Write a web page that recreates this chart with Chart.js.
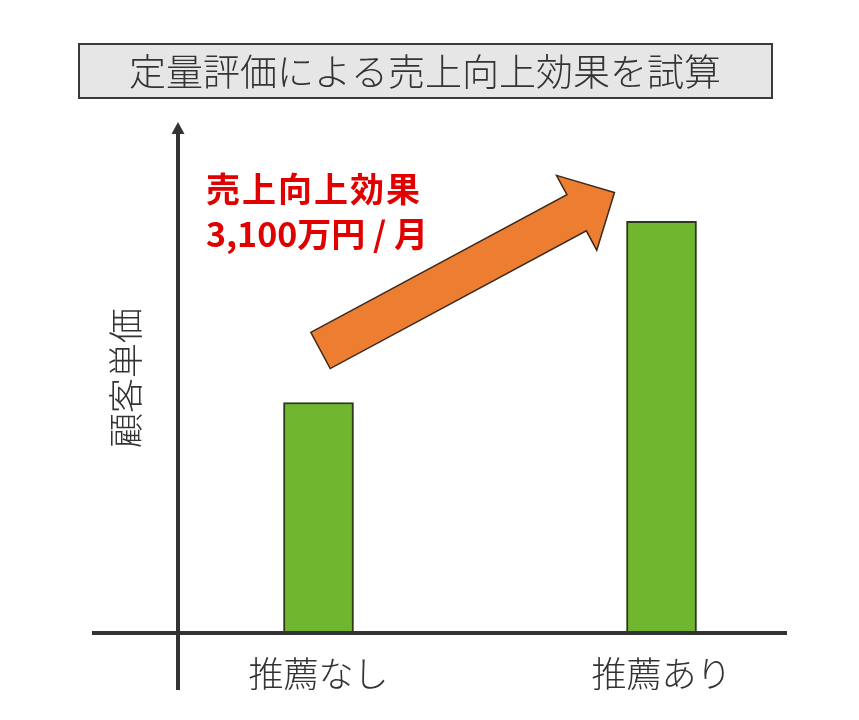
<!DOCTYPE html>
<html lang="ja">
<head>
<meta charset="utf-8">
<title>定量評価による売上向上効果を試算</title>
<script src="https://cdn.jsdelivr.net/npm/chart.js@4/dist/chart.umd.min.js"></script>
<style>
  html, body { margin: 0; padding: 0; background: #fff; }
  #wrap { width: 859px; height: 720px; }
</style>
</head>
<body>
<div id="wrap"><canvas id="chart" width="859" height="720"></canvas></div>
<script>
// データ
const categories = ['推薦なし', '推薦あり'];
const unitPrice = [45.2, 80.7];   // 顧客単価 (相対値、目盛りなし)
const yMax = 100;

const titleText = '定量評価による売上向上効果を試算';
const yTitle = '顧客単価';
const effectLines = ['売上向上効果', '3,100万円 / 月'];

const FONT = '"Noto Sans CJK JP", "Noto Sans", sans-serif';
const AXIS_COLOR = '#333333';

// タイトル枠・軸矢印・注記を描くプラグイン
const decorPlugin = {
    id: 'decor',
    beforeDraw(chart) {
        const ctx = chart.ctx;
        ctx.save();
        // タイトル枠
        ctx.fillStyle = '#e6e6e6';
        ctx.strokeStyle = '#3a3a3a';
        ctx.lineWidth = 2;
        ctx.fillRect(79, 44, 693, 54);
        ctx.strokeRect(79, 44, 693, 54);
        ctx.fillStyle = '#333333';
        ctx.font = '300 37px ' + FONT;
        ctx.textAlign = 'center';
        ctx.textBaseline = 'middle';
        ctx.fillText(titleText, 425, 72);
        ctx.restore();
    },
    afterDatasetsDraw(chart) {
        const ctx = chart.ctx;
        const area = chart.chartArea;
        const y0 = chart.scales.y.getPixelForValue(0);
        const axisX = area.left + 31;

        ctx.save();
        ctx.strokeStyle = AXIS_COLOR;
        ctx.fillStyle = AXIS_COLOR;
        ctx.lineWidth = 4;
        // 横軸
        ctx.beginPath();
        ctx.moveTo(92, y0);
        ctx.lineTo(787, y0);
        ctx.stroke();
        // 縦軸 + 矢印
        ctx.beginPath();
        ctx.moveTo(axisX, 690);
        ctx.lineTo(axisX, area.top + 8);
        ctx.stroke();
        ctx.beginPath();
        ctx.moveTo(axisX, area.top - 1);
        ctx.lineTo(axisX - 6.5, area.top + 11);
        ctx.lineTo(axisX + 6.5, area.top + 11);
        ctx.closePath();
        ctx.fill();

        // オレンジの矢印 (棒の上端から算出)
        const bars = chart.getDatasetMeta(0).data;
        const b1 = bars[0], b2 = bars[1];
        const tail = { x: b1.x + 2, y: b1.y - 52 };
        const tip = { x: b2.x - 47, y: b2.y - 29 };
        const dx = tip.x - tail.x, dy = tip.y - tail.y;
        const L = Math.hypot(dx, dy);
        const ang = Math.atan2(dy, dx);
        const sw = 20.5, hw = 42.5, hl = 43;
        ctx.translate(tail.x, tail.y);
        ctx.rotate(ang);
        ctx.beginPath();
        ctx.moveTo(0, -sw);
        ctx.lineTo(L - hl, -sw);
        ctx.lineTo(L - hl, -hw);
        ctx.lineTo(L, 0);
        ctx.lineTo(L - hl, hw);
        ctx.lineTo(L - hl, sw);
        ctx.lineTo(0, sw);
        ctx.closePath();
        ctx.fillStyle = '#ed7d31';
        ctx.fill();
        ctx.strokeStyle = '#3b2a1c';
        ctx.lineWidth = 1.5;
        ctx.stroke();
        ctx.restore();

        // 赤い注記
        ctx.save();
        ctx.fillStyle = '#e00000';
        ctx.font = 'bold 34px ' + FONT;
        ctx.textAlign = 'left';
        ctx.textBaseline = 'middle';
        ctx.letterSpacing = '2px';
        ctx.fillText(effectLines[0], 206, 189);
        ctx.letterSpacing = '0px';
        ctx.fillText(effectLines[1], 206, 234);
        ctx.restore();
    }
};

new Chart(document.getElementById('chart').getContext('2d'), {
    type: 'bar',
    data: {
        labels: categories,
        datasets: [{
            label: yTitle,
            data: unitPrice,
            backgroundColor: '#70b62f',
            borderColor: '#2b3a1a',
            borderWidth: 2,
            barThickness: 70,
        }]
    },
    options: {
        responsive: false,
        animation: false,
        layout: { padding: { top: 123, left: 105, right: 26, bottom: 5 } },
        plugins: {
            legend: { display: false },
            tooltip: { enabled: false },
            title: { display: false },
        },
        scales: {
            x: {
                offset: true,
                grid: { display: false, drawTicks: false },
                border: { display: false },
                ticks: {
                    padding: 20,
                    color: '#333333',
                    font: { family: FONT, size: 35, weight: 300 },
                },
            },
            y: {
                min: 0,
                max: yMax,
                grid: { display: false, drawTicks: false },
                border: { display: false },
                ticks: { display: false },
                title: {
                    display: true,
                    text: yTitle,
                    color: '#333333',
                    padding: 0,
                    font: { family: FONT, size: 35, weight: 300 },
                },
            },
        },
    },
    plugins: [decorPlugin],
});
</script>
</body>
</html>
